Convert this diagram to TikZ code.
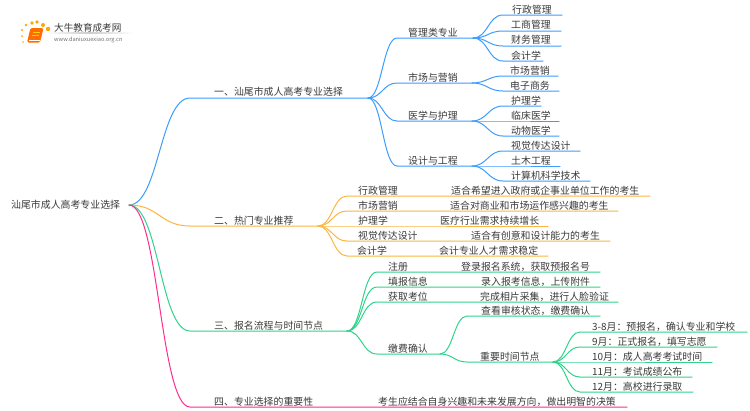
\documentclass[tikz,border=0pt]{standalone}
\usepackage{fontspec}
\setmainfont{Noto Sans CJK SC}
\usetikzlibrary{calc}
\definecolor{cblue}{HTML}{3D9DFF}
\definecolor{corange}{HTML}{FBB741}
\definecolor{cgreen}{HTML}{30D38C}
\definecolor{cpink}{HTML}{FF2D8F}
\definecolor{ctext}{HTML}{3A3A3A}
\tikzset{
  txt/.style={anchor=west,inner sep=0pt,yshift=-0.7pt,text=ctext,font=\fontsize{9.9pt}{11pt}\selectfont},
  wire/.style={line width=1pt,line cap=round},
  logodot/.style={fill=#1,draw=none}
}
% name, text x, text y, left x, right x, line y, text
\newcommand{\nd}[7]{%
  \node[txt] (#1) at (#2,#3) {#7};
  \coordinate (#1-l) at (#4,#6);
  \coordinate (#1-r) at (#5,#6);
}
% colour, parent, child, control distance
\newcommand{\lk}[4]{%
  \draw[wire,#1] (#2-r) .. controls +(#4,0) and +(-#4,0) .. (#3-l) -- (#3-r);
}
% name, x, y, text (detail label printed on its parent's line)
\newcommand{\dt}[4]{\node[txt] (#1) at (#2,#3) {#4};}
\begin{document}
\begin{tikzpicture}[x=1pt,y=-1pt]
\useasboundingbox (0,0) rectangle (750,410);
\fill[white] (0,0) rectangle (750,410);
% logo
\foreach \px/\py/\pr in {22/30/1.2,26/25/1.4,32/23/1.8,37/22/1.9,43/25/2,48/29/2.2,22/36/1,23/42/.9}
  \fill[logodot=orange!70!yellow] (\px,\py) circle (\pr);
\fill[rounded corners=1.5pt,orange!85!red] (30.5,28) -- (43.5,28) -- (40,42.5) -- (27,42.5) -- cycle;
\draw[orange!40!yellow,line width=.8pt] (32.5,32) -- (40,32) (32,35) -- (39,35);
\draw[white,line width=.5pt] (28.5,40.5) -- (39.5,40.5);
\shade[left color=white,right color=white,middle color=black!20] (45,32.8) rectangle (133,33.4);
\node[txt,font=\fontsize{9.6pt}{11pt}\selectfont] (logoa) at (54,27) {大牛教育成考网};
\node[txt,text=black!55,font=\fontsize{5.65pt}{7pt}\selectfont] (logob) at (54,39) {www.daniuxuexiao.org.cn};
% root
\node[txt] (root) at (11,204.5) {汕尾市成人高考专业选择};
\coordinate (root-r) at (129,205);
% branch 1
\nd{a}{214}{91.5}{190}{368}{98}{一、汕尾市成人高考专业选择}
\nd{a1}{408}{32}{397}{473}{38}{管理类专业}
\nd{a2}{408}{77}{397}{472}{83}{市场与营销}
\nd{a3}{408}{115}{397}{472}{121}{医学与护理}
\nd{a4}{408}{160}{397}{472}{166}{设计与工程}
\nd{a11}{512}{9}{503}{562}{15}{行政管理}
\nd{a12}{511}{24.5}{503}{561}{31}{工商管理}
\nd{a13}{511}{39.5}{503}{561}{46}{财务管理}
\nd{a14}{511}{54.5}{503}{543}{61}{会计学}
\nd{a21}{510}{70}{503}{558}{76}{市场营销}
\nd{a22}{510}{85}{503}{559}{91}{电子商务}
\nd{a31}{511}{100}{503}{541}{106}{护理学}
\nd{a32}{511}{115}{503}{559}{121}{临床医学}
\nd{a33}{511}{130}{503}{559}{136}{动物医学}
\nd{a41}{511}{145}{503}{580}{151}{视觉传达设计}
\nd{a42}{511}{160}{503}{560}{166}{土木工程}
\nd{a43}{511}{175}{503}{590}{181}{计算机科学技术}
\lk{cblue}{root}{a}{30}
\foreach \c in {a1,a2,a3,a4}{\lk{cblue}{a}{\c}{14}}
\foreach \c in {a11,a12,a13,a14}{\lk{cblue}{a1}{\c}{15}}
\foreach \c in {a21,a22}{\lk{cblue}{a2}{\c}{15}}
\foreach \c in {a31,a32,a33}{\lk{cblue}{a3}{\c}{15}}
\foreach \c in {a41,a42,a43}{\lk{cblue}{a4}{\c}{15}}
% branch 2
\nd{b}{214}{220}{190}{318}{226}{二、热门专业推荐}
\nd{b1}{358}{190}{347}{650}{196}{行政管理}
\nd{b2}{358}{205}{347}{618}{211}{市场营销}
\nd{b3}{358}{220}{347}{548}{226}{护理学}
\nd{b4}{358}{235}{347}{610}{241}{视觉传达设计}
\nd{b5}{357}{250}{347}{548}{256}{会计学}
\dt{b1d}{451}{190}{适合希望进入政府或企事业单位工作的考生}
\dt{b2d}{450}{205}{适合对商业和市场运作感兴趣的考生}
\dt{b3d}{440}{220}{医疗行业需求持续增长}
\dt{b4d}{471}{235}{适合有创意和设计能力的考生}
\dt{b5d}{439}{250}{会计专业人才需求稳定}
\lk{corange}{root}{b}{30}
\foreach \c in {b1,b2,b3,b4,b5}{\lk{corange}{b}{\c}{14}}
% branch 3
\nd{c}{214}{325}{190}{347}{331}{三、报名流程与时间节点}
\nd{c1}{388}{266}{377}{600}{272}{注册}
\nd{c2}{388}{281}{377}{600}{287}{填报信息}
\nd{c3}{388}{296}{377}{618}{302}{获取考位}
\nd{c4}{388}{348}{377}{440}{354}{缴费确认}
\dt{c1d}{461}{266}{登录报名系统，获取预报名号}
\dt{c2d}{481}{281}{录入报考信息，上传附件}
\dt{c3d}{480}{296}{完成相片采集，进行人脸验证}
\nd{c41}{481}{310}{467}{600}{316}{查看审核状态，缴费确认}
\nd{c42}{480}{356}{467}{553}{362}{重要时间节点}
\nd{t1}{592}{326}{580}{747}{332}{3-8月：预报名，确认专业和学校}
\nd{t2}{592}{341}{580}{717}{347}{9月：正式报名，填写志愿}
\nd{t3}{592}{356}{580}{712}{362}{10月：成人高考考试时间}
\nd{t4}{592}{371}{580}{692}{377}{11月：考试成绩公布}
\nd{t5}{592}{386}{580}{693}{392}{12月：高校进行录取}
\lk{cgreen}{root}{c}{30}
\foreach \c in {c1,c2,c3,c4}{\lk{cgreen}{c}{\c}{15}}
\foreach \c in {c41,c42}{\lk{cgreen}{c4}{\c}{13}}
\foreach \c in {t1,t2,t3,t4,t5}{\lk{cgreen}{c42}{\c}{13}}
% branch 4
\nd{d}{214}{401}{190}{627}{407}{四、专业选择的重要性}
\dt{dd}{378}{401}{考生应结合自身兴趣和未来发展方向，做出明智的决策}
\lk{cpink}{root}{d}{30}
\end{tikzpicture}
\end{document}
